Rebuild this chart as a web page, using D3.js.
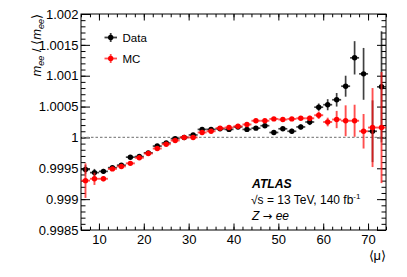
<!DOCTYPE html>
<html><head><meta charset="utf-8">
<script src="https://cdn.jsdelivr.net/npm/d3@7"></script>
<style>body{margin:0;background:#fff}svg{display:block;font-family:"Liberation Sans",Arial,sans-serif}</style>
</head><body><svg id="c" width="407" height="277"></svg>
<script>
const mu = [7,9,11,13,15,17,19,21,23,25,27,29,31,33,35,37,39,41,43,45,47,49,51,53,55,57,59,61,63,65,67,69,71,73];
const dataVal = [0.99948,0.99943,0.99945,0.99951,0.99955,0.99968,0.99969,0.99975,0.99986,0.99991,0.99998,1.00000,1.00004,1.00013,1.00013,1.00014,1.00013,1.00017,1.00013,1.00015,1.00019,1.00008,1.00014,1.00010,1.00017,1.00025,1.00049,1.00053,1.00061,1.00083,1.00129,1.00103,1.00010,1.00082];
const dataErr = [0.00007,0.00006,0.00004,0.00003,0.00003,0.00003,0.00003,0.00003,0.00003,0.00003,0.00003,0.00003,0.00003,0.00003,0.00003,0.00003,0.00003,0.00003,0.00003,0.00003,0.00003,0.00003,0.00003,0.00004,0.00004,0.00005,0.00006,0.00009,0.00011,0.00017,0.00027,0.00042,0.00050,0.00090];
const mcVal = [0.99930,0.99933,0.99933,0.99949,0.99953,0.99958,0.99967,0.99974,0.99982,0.99989,0.99995,1.00000,1.00000,1.00008,1.00010,1.00015,1.00016,1.00018,1.00021,1.00027,1.00027,1.00030,1.00029,1.00030,1.00031,1.00031,1.00036,1.00025,1.00029,1.00027,1.00027,1.00010,1.00016,1.00016];
const mcErr = [0.00028,0.00010,0.00004,0.00003,0.00003,0.00003,0.00003,0.00003,0.00003,0.00003,0.00003,0.00003,0.00003,0.00003,0.00003,0.00003,0.00003,0.00003,0.00003,0.00003,0.00003,0.00003,0.00003,0.00003,0.00003,0.00004,0.00006,0.00007,0.00014,0.00025,0.00026,0.00028,0.00064,0.00090];
const yMajor = [0.9985,0.999,0.9995,1,1.0005,1.001,1.0015,1.002];
const yLabels = ["0.9985","0.999","0.9995","1","1.0005","1.001","1.0015","1.002"];
const xMajor = [10,20,30,40,50,60,70];
const binHalf = 1;

const svg = d3.select("#c");
const L=81,R=386,T=14,B=230;
const x = d3.scaleLinear([6,74],[L,R]);
const y = d3.scaleLinear([0.9985,1.002],[B,T]);
const yMinor = d3.range(0,36).map(i=>+(0.9985+i*0.0001).toFixed(4));
const xMinor = d3.range(6,75,2);

// frame
svg.append("rect").attr("x",L).attr("y",T).attr("width",R-L).attr("height",B-T).attr("fill","none").attr("stroke","#000").attr("stroke-width",1);

function styleAxis(g){g.select(".domain").remove();g.selectAll("line").attr("stroke","#000");g.selectAll("text").attr("font-size",13).attr("fill","#000").attr("font-family","Liberation Sans, Arial, sans-serif");}
// bottom
svg.append("g").attr("transform",`translate(0,${B})`).call(d3.axisBottom(x).tickValues(xMajor).tickSizeInner(-6.5).tickSizeOuter(0).tickPadding(5)).call(styleAxis);
svg.append("g").attr("transform",`translate(0,${B})`).call(d3.axisBottom(x).tickValues(xMinor).tickFormat("").tickSizeInner(-3.3).tickSizeOuter(0)).call(styleAxis);
// top
svg.append("g").attr("transform",`translate(0,${T})`).call(d3.axisTop(x).tickValues(xMajor).tickFormat("").tickSizeInner(-6.5).tickSizeOuter(0)).call(styleAxis);
svg.append("g").attr("transform",`translate(0,${T})`).call(d3.axisTop(x).tickValues(xMinor).tickFormat("").tickSizeInner(-3.3).tickSizeOuter(0)).call(styleAxis);
// left
svg.append("g").attr("transform",`translate(${L},0)`).call(d3.axisLeft(y).tickValues(yMajor).tickFormat((d,i)=>yLabels[i]).tickSizeInner(-9).tickSizeOuter(0).tickPadding(2.5)).call(styleAxis);
svg.append("g").attr("transform",`translate(${L},0)`).call(d3.axisLeft(y).tickValues(yMinor).tickFormat("").tickSizeInner(-4.5).tickSizeOuter(0)).call(styleAxis);
// right
svg.append("g").attr("transform",`translate(${R},0)`).call(d3.axisRight(y).tickValues(yMajor).tickFormat("").tickSizeInner(-9).tickSizeOuter(0)).call(styleAxis);
svg.append("g").attr("transform",`translate(${R},0)`).call(d3.axisRight(y).tickValues(yMinor).tickFormat("").tickSizeInner(-4.5).tickSizeOuter(0)).call(styleAxis);

// dashed reference line
svg.append("line").attr("x1",L+1).attr("x2",R-1).attr("y1",y(1)).attr("y2",y(1)).attr("stroke","#8a8a8a").attr("stroke-width",1.2).attr("stroke-dasharray","2.5,2");

function series(vals,errs,col,barCol,bw){
  const g = svg.append("g");
  mu.forEach((m,i)=>{
    g.append("line").attr("x1",x(m-binHalf)).attr("x2",x(m+binHalf)).attr("y1",y(vals[i])).attr("y2",y(vals[i])).attr("stroke",barCol).attr("stroke-width",bw);
    g.append("line").attr("x1",x(m)).attr("x2",x(m)).attr("y1",y(vals[i]-errs[i])).attr("y2",y(vals[i]+errs[i])).attr("stroke",barCol).attr("stroke-width",bw);
    g.append("circle").attr("cx",x(m)).attr("cy",y(vals[i])).attr("r",2.7).attr("fill",col);
  });
}
series(dataVal,dataErr,"#000","rgba(0,0,0,0.75)",1.7);
series(mcVal,mcErr,"#ff0000","rgba(255,20,20,0.75)",1.9);

// legend
const leg = [{t:"Data",c:"#000",b:"rgba(0,0,0,0.75)",yy:37.5},{t:"MC",c:"#ff0000",b:"rgba(255,20,20,0.75)",yy:58.5}];
leg.forEach(l=>{
  svg.append("line").attr("x1",104.5).attr("x2",117).attr("y1",l.yy).attr("y2",l.yy).attr("stroke",l.b).attr("stroke-width",1.8);
  svg.append("line").attr("x1",110.7).attr("x2",110.7).attr("y1",l.yy-4.5).attr("y2",l.yy+4.5).attr("stroke",l.b).attr("stroke-width",1.8);
  svg.append("circle").attr("cx",110.7).attr("cy",l.yy).attr("r",2.7).attr("fill",l.c);
  svg.append("text").attr("x",122.5).attr("y",l.yy+4).attr("font-size",11.5).text(l.t);
});

// ATLAS label
svg.append("text").attr("x",252).attr("y",188).attr("font-size",12.2).attr("font-weight","bold").attr("font-style","italic").text("ATLAS");
const t2 = svg.append("text").attr("x",251).attr("y",203.5).attr("font-size",12);
t2.append("tspan").text("\u221As = 13 TeV, 140 fb");
t2.append("tspan").attr("font-size",8).attr("dy",-4.5).text("-1");
const t3 = svg.append("text").attr("x",252).attr("y",219.5).attr("font-size",12);
t3.append("tspan").attr("font-style","italic").text("Z\u00A0");
t3.append("tspan").attr("font-family","DejaVu Sans").attr("font-size",11.5).text("\u2192");
t3.append("tspan").attr("font-style","italic").text("\u00A0ee");

// axis titles
svg.append("text").attr("x",386).attr("y",260).attr("text-anchor","end").attr("font-size",13).text("\u27E8\u03BC\u27E9");
const yt = svg.append("text").attr("transform","translate(41,14) rotate(-90)").attr("text-anchor","end").attr("font-size",13);
yt.append("tspan").attr("font-style","italic").text("m");
yt.append("tspan").attr("font-style","italic").attr("font-size",9).attr("dy",3).text("ee");
yt.append("tspan").attr("dy",-3).text(" / \u27E8");
yt.append("tspan").attr("font-style","italic").text("m");
yt.append("tspan").attr("font-style","italic").attr("font-size",9).attr("dy",3).text("ee");
yt.append("tspan").attr("dy",-3).text("\u27E9");
</script></body></html>
